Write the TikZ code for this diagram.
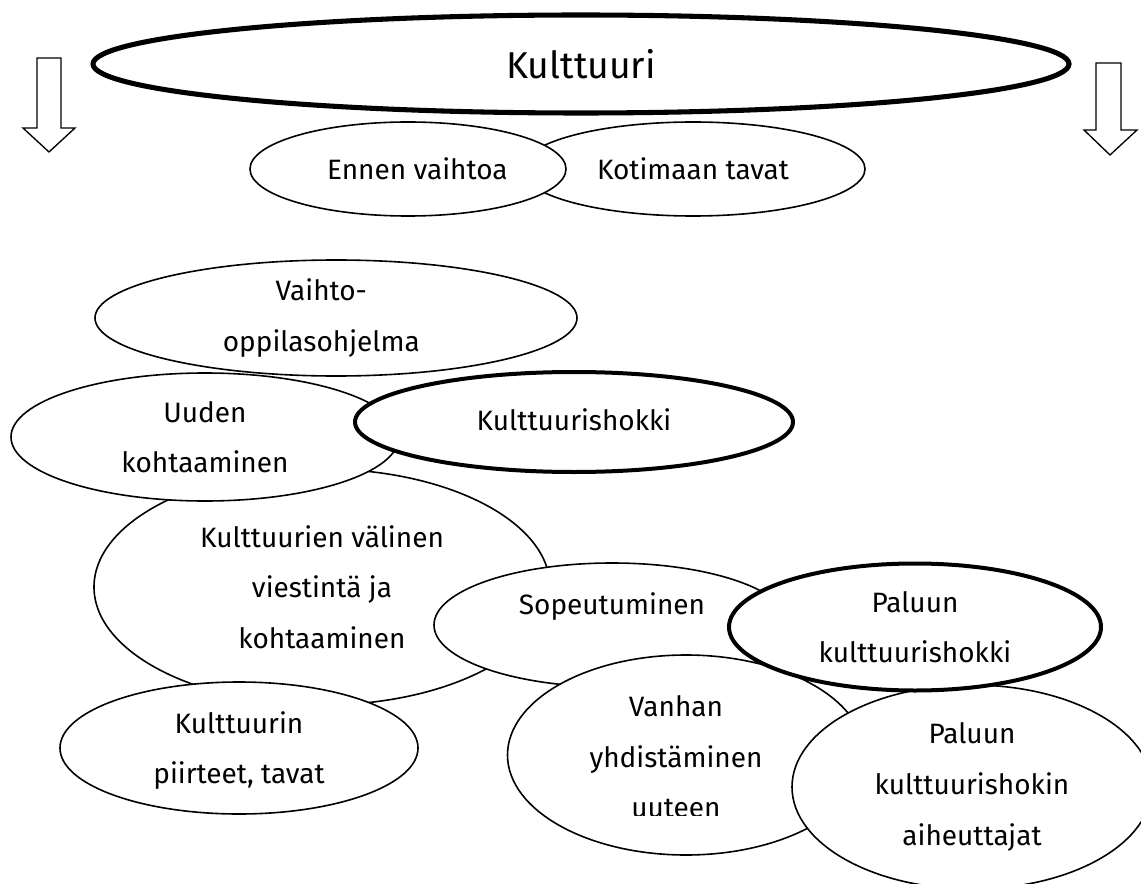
\documentclass[tikz,border=0pt]{standalone}
\usepackage{fontspec}
\setmainfont{Fira Sans}
\usetikzlibrary{shapes.geometric}
\tikzset{
  oval/.style={ellipse, draw=black, fill=white, line width=1.2pt, inner sep=0pt},
  ovalbold/.style={oval, line width=3pt},
  ovalbig/.style={oval, line width=3.8pt},
  wh/.style 2 args={minimum width=#1*0.75pt, minimum height=#2*0.75pt},
  lbl/.style={inner sep=0pt, align=center, font=\fontsize{21}{38}\selectfont},
  lblbig/.style={lbl, font=\fontsize{28}{34}\selectfont},
  blockarrow/.style={draw=black, fill=white, line width=1pt, line join=miter},
}

\begin{document}
\begin{tikzpicture}[x=0.75pt, y=-0.75pt]
  \useasboundingbox (0,0) rectangle (1141,884);

  % block arrows at the sides
  \draw[blockarrow] (37,58) -- (61,58) -- (61,128) -- (75,128) -- (49,152)
      -- (23,128) -- (37,128) -- cycle;
  \draw[blockarrow] (1096,63) -- (1121,63) -- (1121,130) -- (1137,130) -- (1110,155)
      -- (1084,130) -- (1096,130) -- cycle;

  % top
  \node[ovalbig, wh={976}{98}] (kult) at (581,64) {};
  \node[lblbig] at (kult) {Kulttuuri};

  \node[oval, wh={344}{94}] (koti) at (693,169) {};
  \node[lbl] at (koti) {Kotimaan tavat};
  \node[oval, wh={316}{94}] (ennen) at (408,169) {};
  \node[lbl] at ([xshift=7pt]ennen) {Ennen vaihtoa};

  % middle
  \node[oval, wh={482}{116}] (vaihto) at (336,318) {};
  \node[lbl] at ([xshift=-11pt]vaihto) {Vaihto-\\oppilasohjelma};

  \node[oval, wh={456}{236}] (kvv) at (322,587) {};
  \node[lbl] at (kvv) {Kulttuurien välinen\\viestintä ja\\kohtaaminen};
  \node[oval, wh={388}{128}] (uuden) at (205,437) {};
  \node[lbl] at (uuden) {Uuden\\kohtaaminen};
  \node[ovalbold, wh={438}{100}] (shokki) at (574,422) {};
  \node[lbl] at ([yshift=2pt]shokki) {Kulttuurishokki};

  % bottom
  \node[oval, wh={358}{132}] (piirt) at (239,748) {};
  \node[lbl] at ([yshift=-2pt]piirt) {Kulttuurin\\piirteet, tavat};
  \node[oval, wh={356}{124}] (sop) at (612,625) {};
  \node[lbl] at ([yshift=14pt]sop) {Sopeutuminen};
  \node[oval, wh={357}{200}] (vanh) at (686,755) {};
  \begin{scope}
    \clip (500,650) rectangle (860,815.5);
    \node[lbl] at ([xshift=-7.5pt, yshift=-1.5pt]vanh) {Vanhan\\yhdistäminen\\uuteen};
  \end{scope}
  \node[oval, wh={360}{204}] (aiheut) at (972,787) {};
  \node[lbl] at (aiheut) {Paluun\\kulttuurishokin\\aiheuttajat};
  \node[ovalbold, wh={372}{127}] (palk) at (915,627) {};
  \node[lbl] at (palk) {Paluun\\kulttuurishokki};

\end{tikzpicture}
\end{document}
